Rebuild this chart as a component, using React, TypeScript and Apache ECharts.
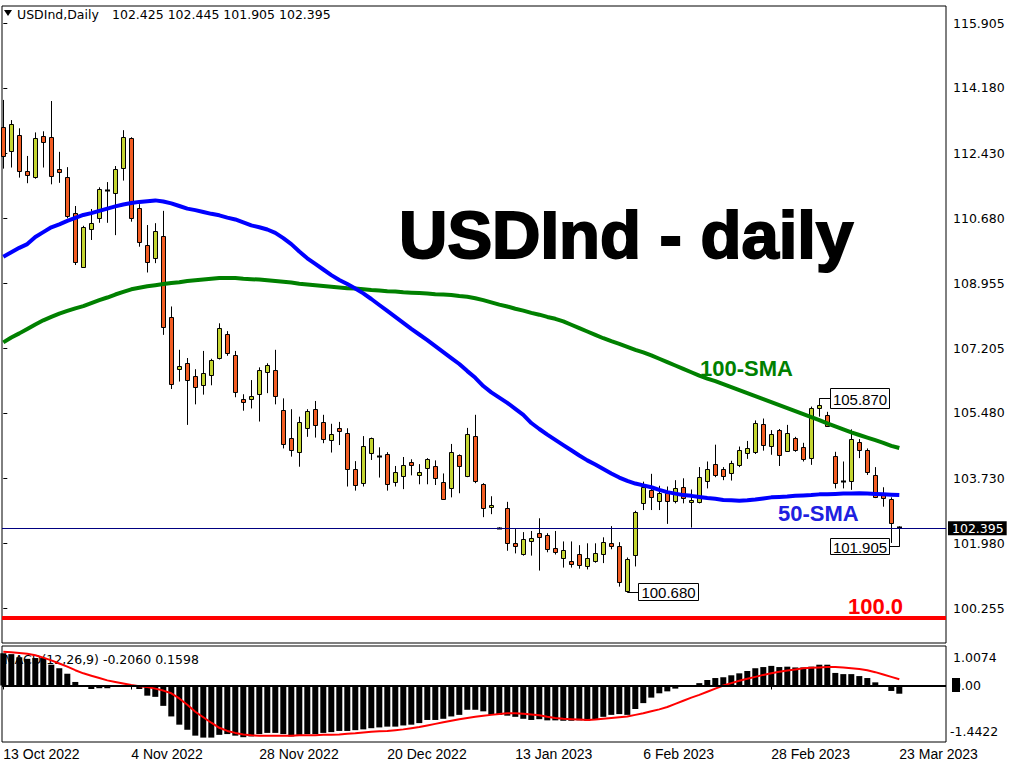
import React, { useEffect, useRef } from "react";
import * as echarts from "echarts";

// [open, high, low, close] per daily bar, 13 Oct 2022 .. 23 Mar 2023
const candles: [number, number, number, number][] = [
  [113.14, 113.86, 112.02, 112.36], [112.49, 113.32, 112.05, 113.21], [112.91, 113.10, 111.78, 111.95],
  [111.95, 112.36, 111.63, 111.84], [111.80, 112.99, 111.75, 112.83], [112.89, 113.02, 112.05, 112.74],
  [112.86, 113.83, 111.60, 111.82], [112.00, 112.47, 111.64, 111.92], [111.79, 112.06, 110.69, 110.74],
  [110.83, 111.02, 109.44, 109.51], [109.40, 110.49, 109.37, 110.45], [110.40, 110.94, 110.11, 110.56],
  [110.69, 111.52, 110.57, 111.47], [111.44, 111.66, 110.57, 111.42], [111.36, 112.09, 110.24, 112.00],
  [112.03, 113.05, 111.70, 112.86], [112.83, 112.86, 110.60, 110.69], [110.96, 111.07, 109.93, 110.05],
  [109.97, 110.51, 109.24, 109.51], [109.62, 110.56, 109.49, 110.35], [110.22, 110.89, 107.57, 107.77],
  [108.05, 108.33, 106.12, 106.25], [106.65, 107.17, 106.32, 106.74], [106.81, 106.95, 105.16, 106.36],
  [106.46, 106.65, 105.71, 106.17], [106.22, 107.14, 105.97, 106.54], [106.49, 106.93, 106.22, 106.89],
  [106.94, 107.88, 106.91, 107.75], [107.59, 107.67, 107.01, 107.08], [107.02, 107.14, 105.90, 106.03],
  [105.85, 105.98, 105.54, 105.77], [105.84, 106.36, 105.60, 105.93], [106.00, 106.70, 105.25, 106.62],
  [106.57, 106.81, 106.01, 106.76], [106.62, 107.17, 105.71, 105.93], [105.56, 105.87, 104.53, 104.64],
  [104.80, 105.58, 104.31, 104.48], [104.43, 105.38, 104.04, 105.24], [105.07, 105.58, 104.84, 105.53],
  [105.58, 105.80, 104.82, 105.15], [105.24, 105.43, 104.67, 104.78], [104.75, 105.19, 104.42, 104.91],
  [105.07, 105.24, 104.62, 104.99], [104.94, 105.07, 103.51, 103.97], [103.97, 104.19, 103.40, 103.54],
  [103.60, 104.86, 103.51, 104.59], [104.40, 104.82, 104.22, 104.80], [104.32, 104.56, 103.75, 104.30],
  [104.37, 104.43, 103.40, 103.57], [103.62, 104.06, 103.51, 103.89], [103.78, 104.30, 103.44, 104.08],
  [104.16, 104.24, 103.81, 104.08], [103.81, 104.11, 103.57, 103.89], [104.00, 104.27, 103.57, 104.24],
  [104.05, 104.21, 103.55, 103.73], [103.62, 103.86, 103.15, 103.17], [103.46, 104.65, 103.22, 104.43],
  [104.35, 104.37, 103.33, 104.05], [103.80, 105.08, 103.76, 104.91], [104.86, 105.43, 103.60, 103.65],
  [103.57, 103.60, 102.69, 102.93], [102.96, 103.25, 102.77, 103.01], [102.40, 102.42, 102.38, 102.40],
  [102.93, 103.10, 101.79, 102.00], [102.00, 102.37, 101.72, 101.92], [101.70, 102.29, 101.66, 102.10],
  [102.04, 102.32, 101.66, 102.12], [102.26, 102.66, 101.26, 102.15], [102.20, 102.26, 101.75, 101.83],
  [101.86, 102.32, 101.69, 101.75], [101.59, 102.04, 101.34, 101.80], [101.51, 102.04, 101.34, 101.43],
  [101.70, 101.94, 101.31, 101.40], [101.38, 101.99, 101.29, 101.59], [101.51, 101.99, 101.47, 101.72],
  [101.70, 102.15, 101.46, 102.02], [102.00, 102.45, 101.83, 101.91], [101.91, 102.02, 100.83, 100.95],
  [100.71, 101.61, 100.68, 101.56], [101.67, 102.86, 101.37, 102.82], [103.06, 103.64, 102.88, 103.51],
  [103.42, 103.85, 102.88, 103.22], [103.13, 103.53, 102.88, 103.33], [103.33, 103.51, 102.51, 103.11],
  [103.13, 103.68, 103.06, 103.46], [103.51, 103.73, 103.06, 103.20], [103.10, 103.43, 102.41, 103.15],
  [103.09, 104.03, 103.06, 103.76], [103.66, 104.18, 103.46, 103.97], [104.11, 104.63, 103.76, 103.81],
  [103.97, 104.03, 103.68, 103.78], [103.87, 104.20, 103.67, 104.13], [104.09, 104.58, 104.03, 104.49],
  [104.40, 104.73, 104.25, 104.53], [104.44, 105.28, 104.38, 105.22], [105.18, 105.33, 104.47, 104.61],
  [104.59, 105.02, 104.36, 104.91], [105.02, 105.05, 104.06, 104.36], [104.47, 105.16, 104.44, 104.95],
  [104.80, 104.84, 104.44, 104.49], [104.56, 104.68, 104.18, 104.24], [104.28, 105.65, 104.09, 105.60],
  [105.60, 105.87, 105.38, 105.69], [105.42, 105.51, 105.11, 105.13], [104.33, 104.44, 103.46, 103.60],
  [103.67, 104.18, 103.46, 103.65], [103.67, 105.04, 103.42, 104.78], [104.70, 104.78, 104.27, 104.49],
  [104.49, 104.53, 103.82, 103.91], [103.81, 104.03, 103.20, 103.24], [103.28, 103.49, 102.97, 103.20],
  [103.17, 103.22, 102.00, 102.54], [102.425, 102.445, 101.905, 102.395],
];

const sma50 = [
  109.66, 109.78, 109.90, 110.00, 110.19, 110.32, 110.45, 110.53, 110.62, 110.70,
  110.78, 110.83, 110.89, 110.95, 111.01, 111.06, 111.10, 111.13, 111.15, 111.17,
  111.14, 111.09, 111.02, 110.95, 110.91, 110.86, 110.81, 110.77, 110.71, 110.66,
  110.58, 110.50, 110.45, 110.39, 110.30, 110.16, 110.00, 109.80, 109.62, 109.47,
  109.32, 109.17, 109.04, 108.93, 108.81, 108.68, 108.53, 108.37, 108.21, 108.05,
  107.89, 107.73, 107.58, 107.43, 107.27, 107.11, 106.95, 106.79, 106.60, 106.42,
  106.20, 106.03, 105.89, 105.75, 105.59, 105.43, 105.21, 105.05, 104.90, 104.76,
  104.62, 104.48, 104.34, 104.21, 104.10, 103.98, 103.86, 103.75, 103.66, 103.59,
  103.54, 103.49, 103.42, 103.36, 103.32, 103.28, 103.26, 103.23, 103.20, 103.18,
  103.15, 103.14, 103.13, 103.14, 103.16, 103.19, 103.22, 103.23, 103.24, 103.26,
  103.27, 103.28, 103.30, 103.30, 103.31, 103.32, 103.32, 103.33, 103.32, 103.31,
  103.30, 103.29, 103.28,
];

const sma100 = [
  107.37, 107.50, 107.61, 107.73, 107.85, 107.96, 108.05, 108.14, 108.21, 108.28,
  108.34, 108.42, 108.50, 108.57, 108.65, 108.72, 108.79, 108.83, 108.87, 108.90,
  108.93, 108.96, 108.98, 109.01, 109.03, 109.05, 109.07, 109.09, 109.09, 109.09,
  109.07, 109.06, 109.05, 109.03, 109.01, 108.99, 108.97, 108.94, 108.92, 108.90,
  108.88, 108.86, 108.84, 108.82, 108.81, 108.79, 108.77, 108.76, 108.74, 108.73,
  108.71, 108.70, 108.69, 108.68, 108.66, 108.65, 108.64, 108.61, 108.59, 108.55,
  108.50, 108.44, 108.38, 108.33, 108.27, 108.22, 108.16, 108.11, 108.05, 108.00,
  107.93, 107.84, 107.75, 107.66, 107.57, 107.48, 107.40, 107.33, 107.25, 107.17,
  107.10, 107.02, 106.93, 106.84, 106.75, 106.66, 106.57, 106.48, 106.40, 106.33,
  106.25, 106.17, 106.09, 106.01, 105.93, 105.85, 105.77, 105.69, 105.61, 105.53,
  105.45, 105.37, 105.29, 105.20, 105.12, 105.04, 104.96, 104.89, 104.82, 104.75,
  104.68, 104.60, 104.54,
];

const macdHist = [
  0.82, 0.80, 0.72, 0.68, 0.70, 0.70, 0.53, 0.44, 0.30, 0.09,
  0.01, -0.09, -0.07, -0.07, -0.01, 0.00, -0.01, -0.09, -0.26, -0.29,
  -0.52, -0.79, -1.00, -1.13, -1.28, -1.33, -1.33, -1.26, -1.24, -1.28,
  -1.32, -1.30, -1.24, -1.21, -1.21, -1.24, -1.30, -1.26, -1.24, -1.24,
  -1.21, -1.19, -1.16, -1.16, -1.14, -1.12, -1.09, -1.07, -1.05, -1.05,
  -1.02, -1.00, -0.96, -0.88, -0.88, -0.85, -0.79, -0.75, -0.62, -0.62,
  -0.66, -0.75, -0.75, -0.77, -0.80, -0.85, -0.88, -0.86, -0.89, -0.89,
  -0.90, -0.90, -0.89, -0.90, -0.88, -0.80, -0.75, -0.73, -0.75, -0.60,
  -0.45, -0.31, -0.20, -0.15, -0.08, -0.01, 0.00, 0.06, 0.14, 0.19,
  0.21, 0.26, 0.31, 0.37, 0.44, 0.47, 0.50, 0.47, 0.48, 0.46,
  0.46, 0.48, 0.53, 0.53, 0.32, 0.29, 0.29, 0.24, 0.19, 0.08,
  0.00, -0.14, -0.21,
];

const macdSignal = [
  0.86, 0.85, 0.83, 0.81, 0.77, 0.71, 0.64, 0.56, 0.48, 0.39,
  0.31, 0.25, 0.19, 0.13, 0.09, 0.05, 0.01, -0.02, -0.04, -0.08,
  -0.13, -0.20, -0.33, -0.49, -0.67, -0.81, -0.95, -1.08, -1.16, -1.21,
  -1.25, -1.27, -1.28, -1.28, -1.28, -1.28, -1.28, -1.27, -1.27, -1.27,
  -1.26, -1.26, -1.25, -1.23, -1.22, -1.20, -1.18, -1.17, -1.16, -1.14,
  -1.12, -1.09, -1.06, -1.02, -0.98, -0.94, -0.90, -0.86, -0.83, -0.80,
  -0.77, -0.75, -0.73, -0.71, -0.71, -0.72, -0.74, -0.76, -0.80, -0.83,
  -0.85, -0.86, -0.87, -0.88, -0.87, -0.85, -0.83, -0.81, -0.79, -0.75,
  -0.71, -0.66, -0.61, -0.55, -0.47, -0.39, -0.31, -0.24, -0.16, -0.08,
  0.00, 0.06, 0.12, 0.17, 0.22, 0.27, 0.31, 0.35, 0.38, 0.41,
  0.44, 0.45, 0.46, 0.47, 0.47, 0.46, 0.44, 0.42, 0.39, 0.34,
  0.28, 0.22, 0.16,
];

const dateLabels = ["13 Oct 2022", "4 Nov 2022", "28 Nov 2022", "20 Dec 2022", "13 Jan 2023", "6 Feb 2023", "28 Feb 2023", "23 Mar 2023"];
const dateIdx = [0, 16, 32, 48, 64, 80, 96, 112];
const priceTicks = [115.905, 114.18, 112.43, 110.68, 108.955, 107.205, 105.48, 103.73, 101.98, 100.255];
const lastPrice = 102.395;
const supportLevel = 100.0;
const macdMax = 1.0074;
const macdMin = -1.4422;

const BULL = "#c4d531";
const BEAR = "#f25c22";
const AXIS_FONT = "DejaVu Sans";

export default function App() {
  const ref = useRef<HTMLDivElement>(null);

  useEffect(() => {
    const chart = echarts.init(ref.current!, null, { renderer: "svg" });

    const renderCandle = (_params: any, api: any) => {
      const i = api.value(0);
      const o = api.value(1), c = api.value(2), l = api.value(3), h = api.value(4);
      const po = api.coord([i, o]);
      const pc = api.coord([i, c]);
      const pl = api.coord([i, l]);
      const ph = api.coord([i, h]);
      const cx = Math.floor(po[0]) + 0.5;
      const top = Math.round(Math.min(po[1], pc[1])) + 0.5;
      const bot = Math.round(Math.max(po[1], pc[1])) + 0.5;
      const bull = c >= o;
      const children: any[] = [
        { type: "line", shape: { x1: cx, y1: ph[1], x2: cx, y2: pl[1] }, style: { stroke: "#000", lineWidth: 1 } },
      ];
      if (bot - top < 1.5) {
        children.push({ type: "line", shape: { x1: cx - 2.5, y1: top, x2: cx + 2.5, y2: top }, style: { stroke: "#000", lineWidth: 2 } });
      } else {
        children.push({ type: "rect", shape: { x: cx - 2, y: top, width: 4, height: bot - top }, style: { fill: bull ? BULL : BEAR, stroke: "#000", lineWidth: 1 } });
      }
      return { type: "group", children };
    };

    const xMin = -0.1625;
    const xMax = 117.8375;

    const option: any = {
      animation: false,
      backgroundColor: "#ffffff",
      grid: [
        { left: 2, top: 6, width: 944, height: 637, show: true, borderColor: "#000", borderWidth: 1, backgroundColor: "transparent" },
        { left: 2, top: 646, width: 944, height: 96, show: true, borderColor: "#000", borderWidth: 1, backgroundColor: "transparent" },
      ],
      xAxis: [
        { type: "value", gridIndex: 0, min: xMin, max: xMax, show: false },
        {
          type: "value", gridIndex: 1, min: xMin, max: xMax,
          axisLine: { show: false },
          splitLine: { show: false },
          axisTick: { show: true, customValues: dateIdx, length: 4, lineStyle: { color: "#000" } },
          axisLabel: {
            customValues: dateIdx,
            formatter: (v: number) => dateLabels[dateIdx.indexOf(Math.round(v))] ?? "",
            align: "left", margin: 5, color: "#000", fontFamily: "Liberation Sans", fontSize: 14,
          },
        },
      ],
      yAxis: [
        {
          type: "value", gridIndex: 0, position: "right", min: 99.321, max: 116.374,
          axisLine: { show: false },
          splitLine: { show: false },
          axisTick: { show: true, customValues: priceTicks, length: 4, lineStyle: { color: "#000" } },
          axisLabel: {
            customValues: priceTicks,
            formatter: (v: number) => v.toFixed(3),
            margin: 7, color: "#000", fontFamily: AXIS_FONT, fontSize: 12.5,
          },
        },
        {
          type: "value", gridIndex: 1, position: "right", min: macdMin, max: macdMax,
          axisLine: { show: false }, splitLine: { show: false }, axisTick: { show: false }, axisLabel: { show: false },
        },
      ],
      series: [
        {
          type: "custom", name: "USDInd", xAxisIndex: 0, yAxisIndex: 0, silent: true,
          renderItem: renderCandle,
          encode: { x: 0, y: [1, 2, 3, 4] },
          data: candles.map((c, i) => [i, c[0], c[3], c[2], c[1]]),
          z: 3,
        },
        {
          type: "line", name: "100-SMA", xAxisIndex: 0, yAxisIndex: 0, silent: true, symbol: "none",
          data: sma100.map((v, i) => [i, v]),
          lineStyle: { color: "#008000", width: 4 },
          z: 4,
        },
        {
          type: "line", name: "50-SMA", xAxisIndex: 0, yAxisIndex: 0, silent: true, symbol: "none",
          data: sma50.map((v, i) => [i, v]),
          lineStyle: { color: "#0000ff", width: 4 },
          z: 4,
          markLine: {
            silent: true, symbol: "none",
            data: [
              {
                yAxis: lastPrice,
                lineStyle: { color: "#000080", width: 1, type: "solid" },
                label: {
                  show: true, position: "end", distance: 2, formatter: lastPrice.toFixed(3),
                  color: "#fff", backgroundColor: "#000", padding: [1, 3, 0, 4],
                  fontFamily: AXIS_FONT, fontSize: 12.5,
                },
              },
              {
                yAxis: supportLevel,
                lineStyle: { color: "#ff0000", width: 4, type: "solid" },
                label: { show: false },
              },
            ],
          },
        },
        {
          type: "bar", name: "MACD", xAxisIndex: 1, yAxisIndex: 1, silent: true,
          data: macdHist.map((v, i) => [i, v]),
          barWidth: 6,
          itemStyle: { color: "#000" },
          z: 3,
          markLine: {
            silent: true, symbol: "none",
            data: [{ yAxis: 0 }],
            lineStyle: { color: "#000", width: 2, type: "solid" },
            label: { show: false },
          },
        },
        {
          type: "line", name: "Signal", xAxisIndex: 1, yAxisIndex: 1, silent: true, symbol: "none",
          data: macdSignal.map((v, i) => [i, v]),
          lineStyle: { color: "#ff0000", width: 2 },
          z: 4,
        },
      ],
      graphic: [
        { type: "polygon", shape: { points: [[4, 10], [12, 10], [8, 16]] }, style: { fill: "#000" } },
        { type: "text", x: 17, y: 14, style: { text: "USDInd,Daily", font: `12.5px "${AXIS_FONT}"`, fill: "#000", verticalAlign: "middle" } },
        { type: "text", x: 112, y: 14, style: { text: "102.425 102.445 101.905 102.395", font: `12.5px "${AXIS_FONT}"`, fill: "#000", verticalAlign: "middle" } },
        { type: "text", x: 399, y: 234, style: { text: "USDInd - daily", font: 'bold 67px "Liberation Sans"', fill: "#000", stroke: "#000", lineWidth: 2, verticalAlign: "middle" } },
        { type: "text", x: 700, y: 368, style: { text: "100-SMA", font: 'bold 22px "Liberation Sans"', fill: "#008000", verticalAlign: "middle" } },
        { type: "text", x: 778, y: 513, style: { text: "50-SMA", font: 'bold 22px "Liberation Sans"', fill: "#2020e0", verticalAlign: "middle" } },
        { type: "text", x: 848, y: 606, style: { text: "100.0", font: 'bold 22px "Liberation Sans"', fill: "#ff0000", verticalAlign: "middle" } },
        // high label
        { type: "polyline", shape: { points: [[830, 398.5], [819.5, 398.5], [819.5, 403]] }, style: { stroke: "#000", lineWidth: 1, fill: "none" } },
        { type: "rect", shape: { x: 830.5, y: 388.5, width: 59, height: 20 }, style: { fill: "#fff", stroke: "#000", lineWidth: 1 } },
        { type: "text", x: 860, y: 399, style: { text: "105.870", font: '15px "Liberation Sans"', fill: "#000", align: "center", verticalAlign: "middle" } },
        // low label
        { type: "polyline", shape: { points: [[627.5, 591], [627.5, 592.5], [638.5, 592.5]] }, style: { stroke: "#000", lineWidth: 1, fill: "none" } },
        { type: "rect", shape: { x: 638.5, y: 583.5, width: 60, height: 17 }, style: { fill: "#fff", stroke: "#000", lineWidth: 1 } },
        { type: "text", x: 668.5, y: 592.5, style: { text: "100.680", font: '15px "Liberation Sans"', fill: "#000", align: "center", verticalAlign: "middle" } },
        // current low label
        { type: "polyline", shape: { points: [[889.5, 546.5], [899.5, 546.5], [899.5, 528]] }, style: { stroke: "#000", lineWidth: 1, fill: "none" } },
        { type: "rect", shape: { x: 830.5, y: 538.5, width: 59, height: 16 }, style: { fill: "#fff", stroke: "#000", lineWidth: 1 } },
        { type: "text", x: 860, y: 547, style: { text: "101.905", font: '15px "Liberation Sans"', fill: "#000", align: "center", verticalAlign: "middle" } },
        // MACD texts
        { type: "text", x: 4, y: 659, z: -1, style: { text: "MACD(12,26,9) -0.2060 0.1598", font: `12.5px "${AXIS_FONT}"`, fill: "#000", verticalAlign: "middle" } },
        { type: "text", x: 953, y: 657, style: { text: macdMax.toFixed(4), font: `12.5px "${AXIS_FONT}"`, fill: "#000", verticalAlign: "middle" } },
        { type: "rect", shape: { x: 952, y: 678, width: 8, height: 14 }, style: { fill: "#000" } },
        { type: "text", x: 953, y: 685, style: { text: "0.00", font: `12.5px "${AXIS_FONT}"`, fill: "#000", verticalAlign: "middle" } },
        { type: "text", x: 950, y: 731, style: { text: macdMin.toFixed(4), font: `12.5px "${AXIS_FONT}"`, fill: "#000", verticalAlign: "middle" } },
      ],
    };

    chart.setOption(option);
    return () => chart.dispose();
  }, []);

  return <div ref={ref} style={{ position: "absolute", left: 0, top: 0, width: 1024, height: 768 }} />;
}
